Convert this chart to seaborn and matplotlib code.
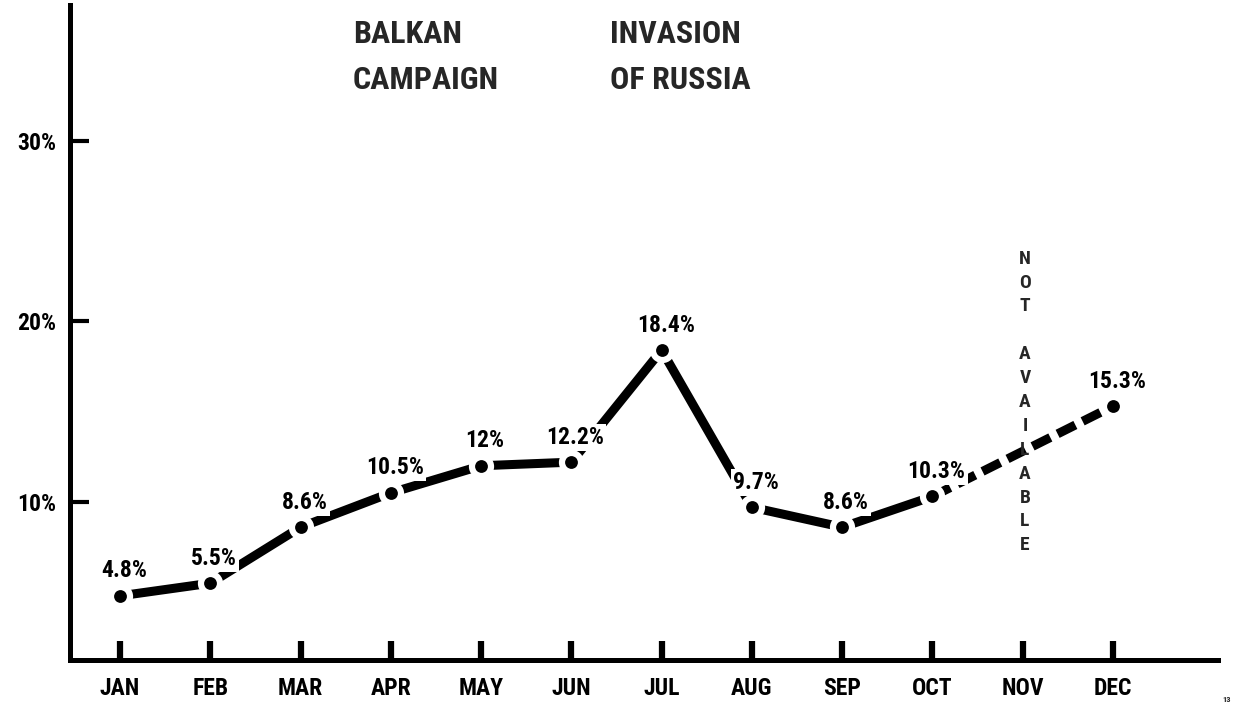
import numpy as np
import pandas as pd
import matplotlib
matplotlib.use("Agg")
import matplotlib.pyplot as plt
import seaborn as sns
from matplotlib import font_manager as fm

# ---------------- data ----------------
months = ["JAN", "FEB", "MAR", "APR", "MAY", "JUN", "JUL", "AUG", "SEP", "OCT", "NOV", "DEC"]
values = [4.8, 5.5, 8.6, 10.5, 12.0, 12.2, 18.4, 9.7, 8.6, 10.3, np.nan, 15.3]
point_labels = ["4.8%", "5.5%", "8.6%", "10.5%", "12%", "12.2%", "18.4%", "9.7%", "8.6%", "10.3%", "", "15.3%"]
ytick_values = [10, 20, 30]
ytick_labels = ["10%", "20%", "30%"]
title_left = "BALKAN\nCAMPAIGN"
title_right = "INVASION\nOF RUSSIA"
na_text = "NOT AVAILABLE"
page_no = "13"

# ---------------- style ----------------
sns.set_theme(style="white")
avail = {f.name for f in fm.fontManager.ttflist}
family = next((f for f in ["Liberation Sans Narrow", "Roboto Condensed", "DejaVu Sans Condensed",
                           "Liberation Sans"] if f in avail), "DejaVu Sans")
plt.rcParams["font.family"] = [family, "DejaVu Sans"]
plt.rcParams["font.weight"] = "bold"

W, H = 1234, 710
fig = plt.figure(figsize=(W / 100, H / 100), dpi=100)
L, R, B, T = 70, 1218, 660, 5
ax = fig.add_axes([L / W, 1 - B / H, (R - L) / W, (B - T) / H])

df = pd.DataFrame({"x": np.arange(len(months)), "month": months, "value": values, "label": point_labels})
known = df.dropna(subset=["value"])
solid = known[known["x"] <= 9]
dashed = known[known["x"] >= 9]

LW = 6.5
sns.lineplot(data=solid, x="x", y="value", ax=ax, color="black", lw=LW,
             solid_capstyle="butt", zorder=2, sort=True)
sns.lineplot(data=dashed, x="x", y="value", ax=ax, color="black", lw=LW,
             linestyle=(0, (2.2, 0.9)), dash_capstyle="butt", zorder=2, sort=True)

# white halo + black dot
sns.scatterplot(data=known, x="x", y="value", ax=ax, s=330, color="white",
                linewidth=0, zorder=3)
sns.scatterplot(data=known, x="x", y="value", ax=ax, s=85, color="black",
                linewidth=0, zorder=4)

for _, r in known.iterrows():
    ax.annotate(r["label"], (r["x"], r["value"]), xytext=(4, 25), textcoords="offset pixels",
                ha="center", va="center", fontsize=17, fontweight="bold", color="black",
                bbox=dict(fc="white", ec="none", pad=1.5), zorder=5)

# axes
ax.set_xlim(-0.554, 12.163)
ax.set_ylim(1.25, 37.5)
ax.set_xticks(df["x"], months)
ax.set_yticks(ytick_values, ytick_labels)
ax.set_xlabel("")
ax.set_ylabel("")
ax.tick_params(axis="x", bottom=True, direction="in", length=14, width=4.5, pad=12,
               labelsize=17, colors="black")
ax.tick_params(axis="y", left=True, direction="in", length=14, width=3, pad=10,
               labelsize=17, colors="black")
for lab in ax.get_xticklabels() + ax.get_yticklabels():
    lab.set_fontweight("bold")
for s in ["top", "right"]:
    ax.spines[s].set_visible(False)
for s in ["left", "bottom"]:
    ax.spines[s].set_linewidth(3.6)
    ax.spines[s].set_color("black")

# headings
fig.text(353 / W, 1 - 19 / H, title_left, fontsize=23, fontweight="bold", ha="left", va="top",
         linespacing=1.65)
fig.text(610 / W, 1 - 19 / H, title_right, fontsize=23, fontweight="bold", ha="left", va="top",
         linespacing=1.65)

# not available (vertical stacked letters)
fig.text(1025 / W, 1 - 402 / H, "\n".join(na_text), fontsize=14, fontweight="bold",
         ha="center", va="center", linespacing=1.42, zorder=6)

fig.text(1222 / W, 1 - 700 / H, page_no, fontsize=6, fontweight="bold", ha="left", va="center")

fig.savefig("out.png", dpi=100, facecolor="white")
